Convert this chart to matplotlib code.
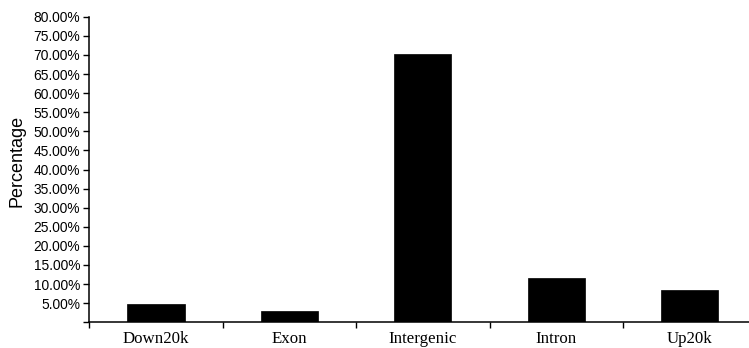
import matplotlib
matplotlib.use("Agg")
import matplotlib.pyplot as plt
from matplotlib.ticker import FixedLocator

categories = ["Down20k", "Exon", "Intergenic", "Intron", "Up20k"]
percentages = [0.048, 0.029, 0.702, 0.117, 0.085]
ytick_values = [0.05 * i for i in range(0, 17)]
ytick_labels = [""] + [f"{v*100:.2f}%" for v in ytick_values[1:]]

W, H = 749, 348
fig = plt.figure(figsize=(W / 100, H / 100), dpi=100)
left = 89.3 / W
bottom = (H - 322.3) / H
top = (H - 16.7) / H
width = 667.0 / W
ax = fig.add_axes([left, bottom, width, top - bottom])

x = list(range(len(categories)))
ax.bar(x, percentages, width=0.43, color="black", edgecolor="black", linewidth=0.5)

ax.set_xlim(-0.5, len(categories) - 0.5)
ax.set_ylim(0, 0.80)

for s in ["top", "right"]:
    ax.spines[s].set_visible(False)
for s in ["left", "bottom"]:
    ax.spines[s].set_linewidth(1.1)
    ax.spines[s].set_color("black")

ax.set_xticks(x)
ax.set_xticklabels(categories, family="Liberation Serif", fontsize=12.2)
ax.tick_params(axis="x", which="major", length=0, pad=6.5)
ax.xaxis.set_minor_locator(FixedLocator([i - 0.5 for i in range(len(categories) + 1)]))
ax.tick_params(axis="x", which="minor", length=4, width=1.0, direction="out")

ax.set_yticks(ytick_values)
ax.set_yticklabels(ytick_labels, family="Liberation Sans", fontsize=9.9)
ax.tick_params(axis="y", which="major", length=4, width=1.0, pad=2.6, direction="out")

fig.text(17 / W, 1 - 161 / H, "Percentage", rotation=90, ha="center", va="center",
         family="Liberation Sans", fontsize=13)

fig.savefig("out.png", dpi=100)
